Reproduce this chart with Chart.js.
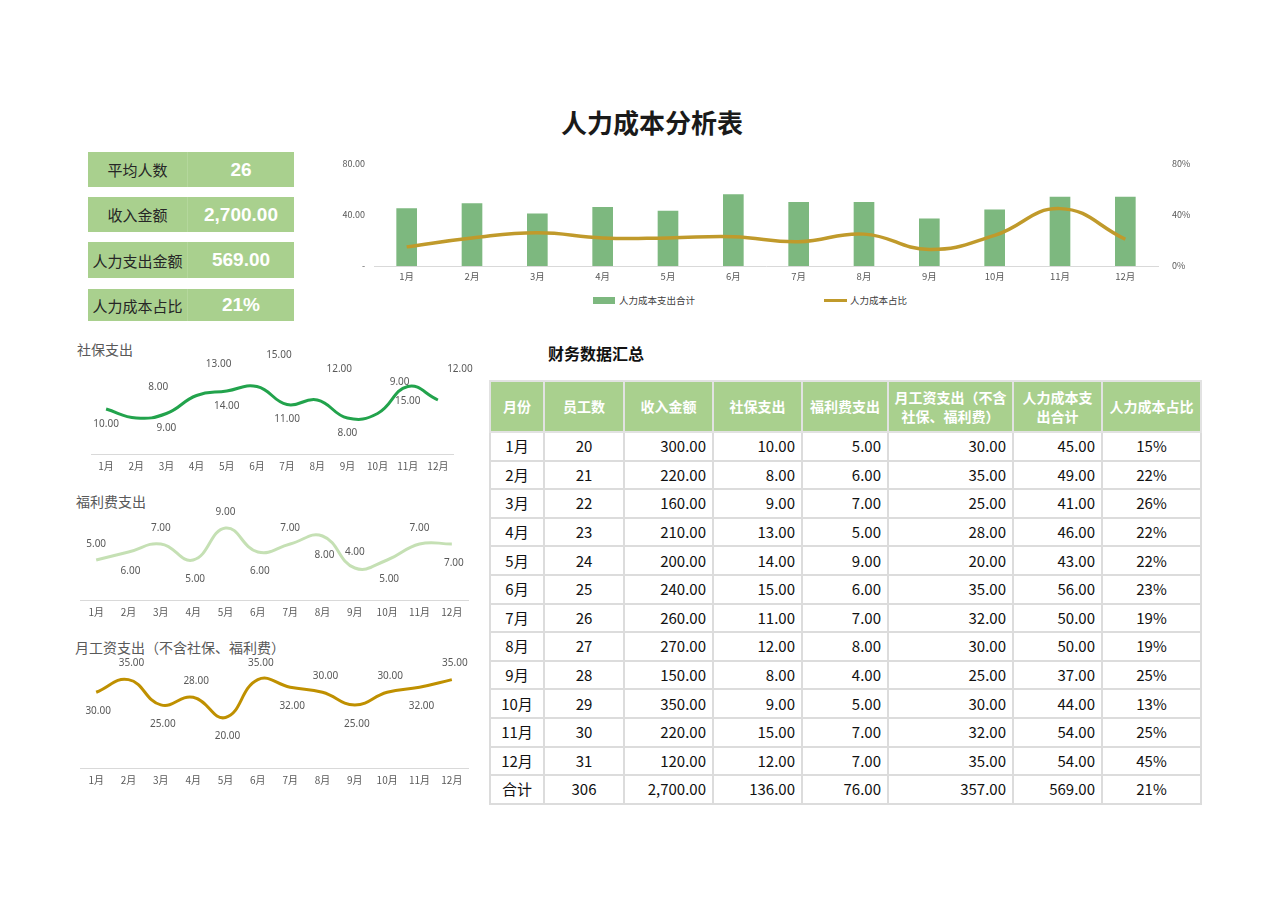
<!DOCTYPE html>
<html lang="zh-CN">
<head>
<meta charset="utf-8">
<title>人力成本分析表</title>
<script src="https://cdn.jsdelivr.net/npm/chart.js@4/dist/chart.umd.min.js"></script>
<style>
  html, body { margin: 0; padding: 0; background: #ffffff; }
  body { width: 1280px; height: 904px; position: relative; overflow: hidden;
         font-family: "Noto Sans CJK SC", "Noto Sans", sans-serif; }
  .abs { position: absolute; }
  #title { left: 502px; top: 104px; width: 300px; text-align: center; font-size: 26px; font-weight: bold;
           color: #1a1a1a; line-height: 36px; }
  .kpi { position: absolute; left: 88px; width: 206px; background: #a9d08e; display: flex; align-items: center; }
  .kpi .lab { width: 99px; text-align: center; font-size: 15px; color: #262626; white-space: nowrap; }
  .kpi .val { flex: 1; text-align: center; font-family: "Liberation Sans", Arial, sans-serif; font-weight: bold;
              font-size: 19px; color: #ffffff; border-left: 1px solid #b4d79c; height: 100%;
              display: flex; align-items: center; justify-content: center; }
  .ctitle { position: absolute; font-size: 14px; color: #595959; line-height: 18px; white-space: nowrap; }
  #tblTitle { left: 548px; top: 342px; font-size: 16px; font-weight: bold; color: #111; line-height: 22px; }
  #legend { left: 593px; top: 293px; font-size: 9.5px; color: #404040; line-height: 14px; }
  .lg { position: absolute; white-space: nowrap; }
  .lgbox { position: absolute; }
  table { position: absolute; left: 489px; top: 380px; width: 711px; border-collapse: collapse; table-layout: fixed; }
  th { background: #a9d08e; color: #ffffff; font-size: 14px; font-weight: bold; height: 49px; padding: 0 2px;
       border: 2px solid #e2e2e2; line-height: 19px; text-align: center; }
  td { font-size: 15px; color: #111; height: 26.6px; border: 2px solid #dcdcdc; padding: 0 6px; line-height: 20px; }
  td.c { text-align: center; }
  td.r { text-align: right; }
</style>
</head>
<body>
<div id="title" class="abs">人力成本分析表</div>

<div id="kpis"></div>

<canvas id="mainChart" class="abs" width="880" height="140" style="left:330px;top:150px;"></canvas>
<div id="legend" class="abs"></div>

<div class="ctitle" style="left:77px;top:340px;">社保支出</div>
<canvas id="socialChart" class="abs" width="410" height="137" style="left:70px;top:343px;"></canvas>

<div class="ctitle" style="left:76px;top:492px;">福利费支出</div>
<canvas id="welfareChart" class="abs" width="410" height="125" style="left:70px;top:505px;"></canvas>

<div class="ctitle" style="left:75px;top:638px;">月工资支出（不含社保、福利费）</div>
<canvas id="salaryChart" class="abs" width="410" height="145" style="left:70px;top:650px;"></canvas>

<div id="tblTitle" class="abs">财务数据汇总</div>
<table id="dataTable">
  <colgroup>
    <col style="width:54px"><col style="width:80px"><col style="width:89px"><col style="width:89px">
    <col style="width:86px"><col style="width:125px"><col style="width:89px"><col style="width:99px">
  </colgroup>
  <thead><tr id="headRow"></tr></thead>
  <tbody id="tbody"></tbody>
</table>

<script>
// ---------------- DATA ----------------
const months = ['1月','2月','3月','4月','5月','6月','7月','8月','9月','10月','11月','12月'];
const employees = [20, 21, 22, 23, 24, 25, 26, 27, 28, 29, 30, 31];
const revenue = [300, 220, 160, 210, 200, 240, 260, 270, 150, 350, 220, 120];
const socialCost = [10, 8, 9, 13, 14, 15, 11, 12, 8, 9, 15, 12];
const welfareCost = [5, 6, 7, 5, 9, 6, 7, 8, 4, 5, 7, 7];
const salaryCost = [30, 35, 25, 28, 20, 35, 32, 30, 25, 30, 32, 35];
const totalCost = [45, 49, 41, 46, 43, 56, 50, 50, 37, 44, 54, 54];
const costRatioPct = [15, 22, 26, 22, 22, 23, 19, 19, 25, 13, 25, 45];
// ratio line as drawn in the top chart
const costRatioLine = [15, 22, 26, 22, 22, 23, 19, 25, 13, 24, 45, 21];
const tableHeaders = ['月份','员工数','收入金额','社保支出','福利费支出','月工资支出（不含<br>社保、福利费）','人力成本支<br>出合计','人力成本占比'];
const kpiLabels = ['平均人数','收入金额','人力支出金额','人力成本占比'];
const barAxisTicks = [0, 40, 80];
const ratioAxisTicks = [0, 40, 80];
const legendLabels = ['人力成本支出合计','人力成本占比'];
const totalLabel = '合计';

// ---------------- HELPERS ----------------
const sum = a => a.reduce((s, v) => s + v, 0);
const fmt2 = v => v.toLocaleString('en-US', {minimumFractionDigits: 2, maximumFractionDigits: 2});
const totEmp = sum(employees), totRev = sum(revenue), totSoc = sum(socialCost),
      totWel = sum(welfareCost), totSal = sum(salaryCost), totCost = sum(totalCost);
const totRatio = Math.round(totCost / totRev * 100);

// ---------------- KPI BOXES ----------------
const kpiValues = [String(Math.round(totEmp / months.length)), fmt2(totRev), fmt2(totCost), totRatio + '%'];
const kpiBoxes = [[152, 35], [197, 35], [242, 36], [289, 32]];
const kpiWrap = document.getElementById('kpis');
kpiLabels.forEach((lab, i) => {
  const d = document.createElement('div');
  d.className = 'kpi';
  d.style.top = kpiBoxes[i][0] + 'px';
  d.style.height = kpiBoxes[i][1] + 'px';
  d.innerHTML = '<div class="lab">' + lab + '</div><div class="val">' + kpiValues[i] + '</div>';
  kpiWrap.appendChild(d);
});

// ---------------- TABLE ----------------
const headRow = document.getElementById('headRow');
tableHeaders.forEach(h => { const th = document.createElement('th'); th.innerHTML = h; headRow.appendChild(th); });
const tbody = document.getElementById('tbody');
function addRow(cells) {
  const tr = document.createElement('tr');
  cells.forEach(([txt, cls]) => { const td = document.createElement('td'); td.className = cls; td.textContent = txt; tr.appendChild(td); });
  tbody.appendChild(tr);
}
months.forEach((m, i) => addRow([
  [m, 'c'], [String(employees[i]), 'c'], [fmt2(revenue[i]), 'r'], [fmt2(socialCost[i]), 'r'],
  [fmt2(welfareCost[i]), 'r'], [fmt2(salaryCost[i]), 'r'], [fmt2(totalCost[i]), 'r'], [costRatioPct[i] + '%', 'c']
]));
addRow([[totalLabel, 'c'], [String(totEmp), 'c'], [fmt2(totRev), 'r'], [fmt2(totSoc), 'r'],
        [fmt2(totWel), 'r'], [fmt2(totSal), 'r'], [fmt2(totCost), 'r'], [totRatio + '%', 'c']]);

// ---------------- LEGEND (top chart) ----------------
const BAR_COLOR = '#7db87f', RATIO_COLOR = '#c09a2b';
const legend = document.getElementById('legend');
legend.innerHTML =
  '<div class="lgbox" style="left:0;top:4px;width:22px;height:7px;background:' + BAR_COLOR + '"></div>' +
  '<div class="lg" style="left:26px;top:0;">' + legendLabels[0] + '</div>' +
  '<div class="lgbox" style="left:231px;top:6px;width:23px;height:3px;background:' + RATIO_COLOR + '"></div>' +
  '<div class="lg" style="left:257px;top:0;">' + legendLabels[1] + '</div>';

// ---------------- CHARTS ----------------
Chart.defaults.font.family = '"Noto Sans CJK SC", "Noto Sans", sans-serif';
Chart.defaults.color = '#595959';
Chart.defaults.animation = false;

new Chart(document.getElementById('mainChart'), {
  type: 'bar',
  data: {
    labels: months,
    datasets: [
      { type: 'line', label: legendLabels[1], data: costRatioLine, yAxisID: 'y1', borderColor: RATIO_COLOR,
        borderWidth: 3.5, tension: 0.45, pointRadius: 0, order: 0, clip: false },
      { type: 'bar', label: legendLabels[0], data: totalCost, yAxisID: 'y', backgroundColor: BAR_COLOR,
        barThickness: 20, order: 1 }
    ]
  },
  options: {
    responsive: false,
    layout: { padding: { top: 14, left: 0, right: 0, bottom: 0 } },
    plugins: { legend: { display: false }, tooltip: { enabled: false } },
    scales: {
      x: { grid: { display: false, drawTicks: false }, border: { color: '#d9d9d9', width: 1 },
           ticks: { font: { size: 9.5 }, padding: 5, color: '#595959' },
           afterFit(s) { s.height = 24; } },
      y: { position: 'left', min: barAxisTicks[0], max: barAxisTicks[barAxisTicks.length - 1],
           grid: { display: false, drawTicks: true, tickLength: 7 }, border: { display: false },
           afterBuildTicks(s) { s.ticks = barAxisTicks.map(v => ({ value: v })); },
           ticks: { font: { size: 9 }, padding: 2, color: '#595959',
                    callback: v => v === 0 ? '-' : v.toFixed(2) },
           afterFit(s) { s.width = 44; } },
      y1: { position: 'right', min: ratioAxisTicks[0], max: ratioAxisTicks[ratioAxisTicks.length - 1],
            grid: { display: false, drawTicks: true, tickLength: 12 }, border: { display: false },
            afterBuildTicks(s) { s.ticks = ratioAxisTicks.map(v => ({ value: v })); },
            ticks: { font: { size: 9 }, padding: 2, color: '#595959', callback: v => v + '%' },
            afterFit(s) { s.width = 52; } }
    }
  }
});

const valueLabels = {
  id: 'valueLabels',
  afterDatasetsDraw(chart, args, opts) {
    const ctx = chart.ctx;
    const meta = chart.getDatasetMeta(0);
    const data = chart.data.datasets[0].data;
    ctx.save();
    ctx.font = '10px "Noto Sans", "Open Sans", sans-serif';
    ctx.fillStyle = '#595959';
    ctx.textAlign = 'center';
    ctx.textBaseline = 'middle';
    meta.data.forEach((pt, i) => {
      const o = (i % 2 === 0) ? opts.oddMonth : opts.evenMonth;
      ctx.fillText(Number(data[i]).toFixed(2), pt.x + o.dx, pt.y + o.dy);
    });
    ctx.restore();
  }
};

function miniChart(id, values, color, yMax, pad, axisH, offsets) {
  new Chart(document.getElementById(id), {
    type: 'line',
    data: { labels: months, datasets: [{ data: values, borderColor: color, borderWidth: 3, tension: 0.45,
                                         pointRadius: 0, clip: false }] },
    options: {
      responsive: false,
      layout: { padding: pad },
      plugins: { legend: { display: false }, tooltip: { enabled: false }, valueLabels: offsets },
      scales: {
        x: { offset: true, grid: { display: false, drawTicks: false }, border: { color: '#d9d9d9', width: 1 },
             ticks: { font: { size: 10 }, padding: 6, color: '#595959', maxRotation: 0, autoSkip: false },
             afterFit(s) { s.height = axisH; } },
        y: { display: false, min: 0, max: yMax }
      }
    },
    plugins: [valueLabels]
  });
}

miniChart('socialChart', socialCost, '#22a34c', 20, { top: 21, left: 21, right: 27, bottom: 0 }, 26,
  { oddMonth: { dx: 0, dy: 15 }, evenMonth: { dx: 22, dy: -31 } });
miniChart('welfareChart', welfareCost, '#c5e0b4', 10, { top: 15, left: 10, right: 12, bottom: 0 }, 30,
  { oddMonth: { dx: 0, dy: -16 }, evenMonth: { dx: 2, dy: 19 } });
miniChart('salaryChart', salaryCost, '#bf9000', 40, { top: 17, left: 10, right: 12, bottom: 0 }, 27,
  { oddMonth: { dx: 2, dy: 19 }, evenMonth: { dx: 3, dy: -16 } });
</script>
</body>
</html>
